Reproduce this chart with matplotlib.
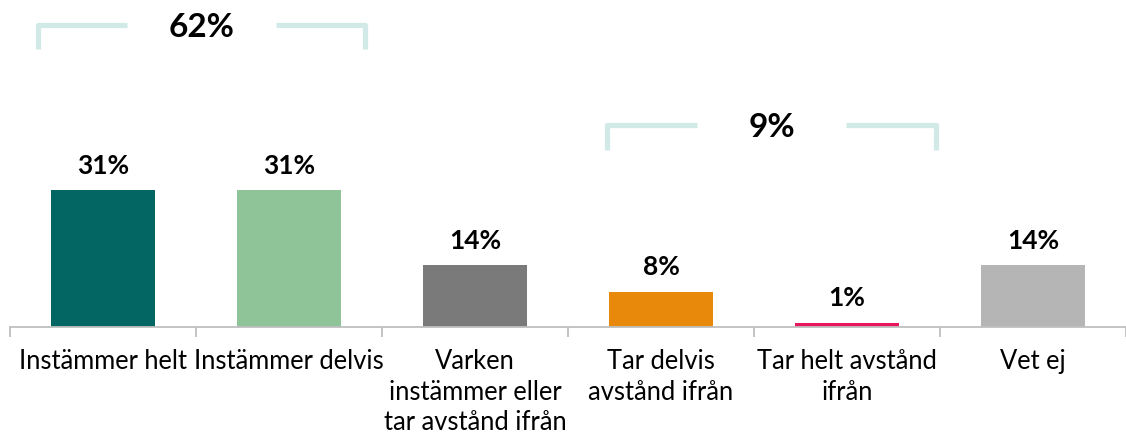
import numpy as np
import matplotlib.pyplot as plt
from matplotlib.path import Path
from matplotlib.patches import PathPatch

plt.rcParams['font.family'] = ['Lato', 'DejaVu Sans']

# Data
categories = ["Instämmer helt", "Instämmer delvis",
              "Varken\ninstämmer eller\ntar avstånd ifrån",
              "Tar delvis\navstånd ifrån", "Tar helt avstånd\nifrån", "Vet ej"]
values = [31, 31, 14, 8, 1, 14]
value_labels = ["31%", "31%", "14%", "8%", "1%", "14%"]
colors = ["#036662", "#8fc398", "#7a7a7a", "#e8890c", "#e8175d", "#b5b5b5"]

group_labels = ["62%", "9%"]
group_members = [(0, 1), (3, 4)]

fig = plt.figure(figsize=(11.26, 4.36), dpi=100)
ax = fig.add_axes([10 / 1126, 0.25, 1 - 10 / 1126, 0.75])

x = np.arange(len(categories))
ax.bar(x, values, width=0.56, color=colors)

for xi, v, lab in zip(x, values, value_labels):
    ax.annotate(lab, (xi, v), xytext=(0, 9), textcoords="offset points",
                ha="center", va="bottom", fontsize=19, fontweight="bold")

ax.set_xlim(-0.5, len(categories) - 0.5)
ax.set_ylim(0, 74)

for s in ["top", "right", "left"]:
    ax.spines[s].set_visible(False)
ax.spines["bottom"].set_color("#bfbfbf")
ax.spines["bottom"].set_linewidth(1.3)
ax.set_yticks([])

ax.set_xticks(np.arange(len(categories) + 1) - 0.5)
ax.set_xticklabels([])
ax.tick_params(axis="x", which="major", length=7, width=1.3, color="#bfbfbf")
ax.set_xticks(x, minor=True)
ax.set_xticklabels(categories, minor=True, fontsize=18.4, linespacing=1.27)
ax.tick_params(axis="x", which="minor", length=0, pad=16)

# Brackets over grouped answers
bracket_color = "#d2eae7"
bracket_y = [68.4, 45.6]
bracket_ends = [(-0.35, 0.41), (-0.29, 0.48)]
leg_drop = 5.6
for (i, j), (lo, hi), lab, by in zip(group_members, bracket_ends,
                                     group_labels, bracket_y):
    left = i + lo
    right = j + hi
    mid = (left + right) / 2
    gap = 0.40
    for verts in ([(left, by - leg_drop), (left, by), (mid - gap, by)],
                  [(mid + gap, by), (right, by), (right, by - leg_drop)]):
        path = Path(verts, [Path.MOVETO, Path.LINETO, Path.LINETO])
        ax.add_patch(PathPatch(path, fill=False, edgecolor=bracket_color,
                               linewidth=3.8, joinstyle="round", capstyle="butt",
                               clip_on=False))
    ax.text(mid, by, lab, ha="center", va="center_baseline", fontsize=24,
            fontweight="bold")

fig.savefig("out.png", dpi=100)
